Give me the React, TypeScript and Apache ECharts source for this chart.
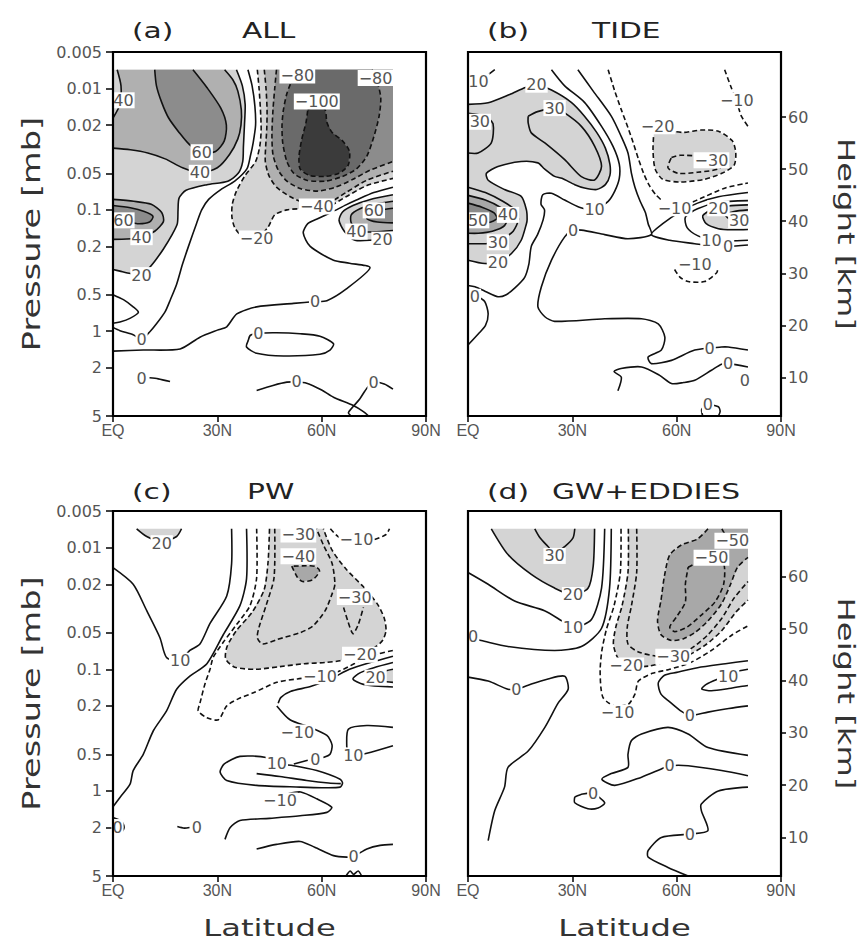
import { useEffect, useRef } from 'react';
import * as echarts from 'echarts';

type Pt = [number, number]; // [latitude (deg N), pressure (mb)]

// ---------- axes ----------
const PRESSURE_TICKS = [0.005, 0.01, 0.02, 0.05, 0.1, 0.2, 0.5, 1, 2, 5];
const PRESSURE_TICK_LABELS = ['0.005', '0.01', '0.02', '0.05', '0.1', '0.2', '0.5', '1', '2', '5'];
const HEIGHT_TICKS = [10, 20, 30, 40, 50, 60];
const HEIGHT_AT_BOTTOM = 2.6; // km at 5 mb
const HEIGHT_AT_TOP = 72.5; // km at 0.005 mb
const LAT_TICKS = [0, 30, 60, 90];
const LAT_TICK_LABELS = ['EQ', '30N', '60N', '90N'];
const TOP = 0.007; // uppermost data level (mb)
const EDGE = 80.5; // northernmost data latitude

// ---------- panel (a) ALL ----------
const A_60_TOP: Pt[] = [[12, 0.007], [12.5, 0.0095], [14, 0.013], [16, 0.0175], [19, 0.023], [22, 0.029], [25.5, 0.0335], [29.5, 0.033], [32, 0.027], [32.6, 0.02], [31, 0.0145], [27, 0.0098], [23, 0.007]];
const A_40_TOP: Pt[] = [[32.1, 0.007], [34.5, 0.0085], [35.9, 0.0105], [36.9, 0.015], [36.8, 0.02], [35.9, 0.026], [33.5, 0.035], [30, 0.045], [25, 0.0495], [20, 0.045], [15, 0.038], [10, 0.034], [5, 0.032], [0, 0.031]];
const A_40_CORNER: Pt[] = [[1.2, 0.007], [2.3, 0.0095], [2, 0.0135], [0, 0.0175]];
const A_20_TOP: Pt[] = [[35.5, 0.007], [37.2, 0.0095], [38, 0.0135], [37.8, 0.02], [37.5, 0.03], [37.3, 0.04], [36, 0.05], [33, 0.058], [27, 0.062], [21, 0.069], [19, 0.08], [18.7, 0.1], [18.5, 0.13], [17, 0.16], [14.5, 0.21], [12, 0.265], [10, 0.31], [8.2, 0.345], [5, 0.335], [2, 0.32], [0, 0.31]];
const A_0_TOP: Pt[] = [[38.8, 0.007], [40, 0.0095], [40.8, 0.014], [41, 0.02], [40.3, 0.028], [39.5, 0.036], [38.5, 0.046], [35, 0.058], [31, 0.068], [27.5, 0.082], [25.5, 0.1], [24, 0.13], [21.7, 0.2], [20, 0.28], [18.3, 0.41], [16.5, 0.55], [15, 0.69], [12.5, 0.87], [10.6, 1.01], [8.2, 1.16], [5.8, 1.07], [2, 0.99], [0, 0.93]];
const A_0_EDGE: Pt[] = [[0, 0.5], [3, 0.55], [5.8, 0.63], [7.3, 0.7], [5, 0.78], [2, 0.84], [0, 0.86]];
const A_60_LMAX: Pt[] = [[0, 0.092], [5, 0.096], [9, 0.103], [11.5, 0.113], [10.5, 0.126], [7, 0.13], [3.5, 0.124], [0, 0.122]];
const A_40_LMAX: Pt[] = [[0, 0.082], [6, 0.085], [11, 0.09], [14, 0.105], [14.5, 0.125], [12, 0.15], [8.2, 0.168], [4, 0.174], [0, 0.175]];
const A_0_LONG: Pt[] = [[0, 1.46], [8.7, 1.43], [19.3, 1.4], [25, 1.12], [30, 0.98], [32.7, 0.92], [35.6, 0.72], [41.3, 0.63], [51.9, 0.59], [58.1, 0.57], [61.5, 0.56], [67, 0.45], [73.9, 0.3], [68, 0.275], [63.4, 0.26], [56.7, 0.2], [54.7, 0.155], [56, 0.13], [59, 0.118], [63, 0.104], [67, 0.091], [70, 0.083], [75, 0.072], [80.5, 0.065]];
const A_20_R: Pt[] = [[80.5, 0.075], [74, 0.082], [69, 0.092], [66, 0.104], [65, 0.122], [66.5, 0.15], [69.6, 0.178], [75, 0.177], [80.5, 0.172]];
const A_40_R: Pt[] = [[80.5, 0.085], [75, 0.09], [71, 0.098], [68.5, 0.11], [68.5, 0.128], [70.5, 0.15], [75, 0.152], [80.5, 0.148]];
const A_60_R: Pt[] = [[80.5, 0.097], [77, 0.1], [73.5, 0.107], [73, 0.118], [76, 0.126], [80.5, 0.128]];
const A_M20: Pt[] = [[41.5, 0.007], [42, 0.01], [42.4, 0.015], [42.6, 0.022], [42.2, 0.03], [41, 0.04], [38, 0.052], [35.5, 0.07], [34.3, 0.09], [34.2, 0.115], [35, 0.14], [37, 0.163], [41.3, 0.17], [44.5, 0.14], [46.5, 0.11], [50, 0.1], [54, 0.098], [58, 0.1], [62, 0.094], [67, 0.078], [73, 0.063], [80.5, 0.055]];
const A_M40: Pt[] = [[43.5, 0.007], [44, 0.01], [44.3, 0.015], [44.2, 0.022], [43.9, 0.03], [43.8, 0.04], [44.8, 0.052], [47, 0.065], [51, 0.078], [55, 0.088], [58.6, 0.092], [62, 0.088], [67, 0.072], [73, 0.057], [80.5, 0.048]];
const A_M60: Pt[] = [[47, 0.007], [46.5, 0.01], [46, 0.015], [45.7, 0.024], [46, 0.035], [47.5, 0.047], [50, 0.058], [54, 0.067], [59, 0.07], [64, 0.065], [69, 0.056], [74, 0.047], [80.5, 0.04]];
const A_M80: Pt[] = [[53, 0.007], [51.5, 0.0085], [50, 0.011], [49, 0.015], [48.6, 0.02], [48.8, 0.028], [50, 0.04], [52, 0.05], [55.7, 0.057], [61, 0.058], [66, 0.053], [70, 0.046], [73, 0.036], [75, 0.025], [76.5, 0.017], [77, 0.012], [76, 0.0088], [74.5, 0.007]];
const A_M100: Pt[] = [[56, 0.015], [58.6, 0.0138], [61, 0.015], [61.5, 0.019], [63, 0.023], [66, 0.027], [68, 0.033], [67.6, 0.043], [65, 0.05], [61, 0.053], [56.5, 0.052], [53.8, 0.046], [53.5, 0.036], [54.3, 0.026], [55.5, 0.019], [56, 0.015]];
const A_0_LOOP: Pt[] = [[38.9, 1.19], [39.5, 1.08], [41.8, 1.04], [47, 1.03], [53.8, 1.05], [59.5, 1.1], [63.4, 1.27], [62.4, 1.43], [59.5, 1.55], [49, 1.6], [41.3, 1.52], [38.4, 1.35], [38.9, 1.19]];
const A_0_BL: Pt[] = [[10.5, 2.42], [13, 2.47], [16.4, 2.6]];
const A_0_B1: Pt[] = [[41.3, 3.08], [46, 2.8], [50, 2.63], [52.8, 2.62], [55.7, 2.68], [60, 3.05], [63.4, 3.5], [69.1, 4.1], [72, 4.6], [73.5, 5]];
const A_0_B2: Pt[] = [[80.5, 3.0], [78, 2.72], [74.9, 2.63], [73, 2.95], [71, 3.6], [69, 4.2], [67.7, 4.7], [68.5, 5]];

// ---------- panel (b) TIDE ----------
const B_10_TOP: Pt[] = [[7.7, 0.007], [5, 0.008], [2.4, 0.0088], [0, 0.0098]];
const B_20: Pt[] = [[0, 0.0135], [5.8, 0.0131], [12, 0.0112], [16.5, 0.0098], [19.7, 0.0093], [24, 0.0103], [29.7, 0.013], [33.5, 0.0169], [37, 0.023], [39.5, 0.031], [40.8, 0.042], [40.8, 0.052], [39.5, 0.062], [37, 0.068], [33.5, 0.066], [30.7, 0.062], [27, 0.055], [24.9, 0.053], [22, 0.046], [20.1, 0.041], [15.3, 0.04], [8.6, 0.044], [5.3, 0.05], [5.8, 0.057], [10.5, 0.068], [15.3, 0.0775], [16.8, 0.1], [17, 0.12], [16.8, 0.13], [15.3, 0.178], [12.5, 0.229], [8.6, 0.27], [4.8, 0.277], [0, 0.26]];
const B_30_U: Pt[] = [[17.3, 0.0169], [20, 0.0155], [24.9, 0.0145], [27.8, 0.0159], [32.6, 0.0205], [36.4, 0.0298], [38.4, 0.0438], [36.4, 0.0567], [32.6, 0.0532], [27.8, 0.0386], [22.1, 0.0281], [18.2, 0.0232], [17.3, 0.0192], [17.3, 0.0169]];
const B_30_L: Pt[] = [[0, 0.016], [5, 0.017], [7.2, 0.0195], [6.7, 0.028], [2.9, 0.034], [0, 0.034]];
const B_10: Pt[] = [[24, 0.007], [27.8, 0.0095], [33.5, 0.013], [38.4, 0.0205], [41.7, 0.03], [43.5, 0.042], [43.5, 0.055], [42.2, 0.07], [40.3, 0.085], [36.4, 0.1], [32, 0.095], [27.8, 0.083], [24, 0.073], [21.5, 0.075], [21, 0.09], [22, 0.1], [21.6, 0.121], [20, 0.16], [18.2, 0.2], [17.5, 0.28], [16.3, 0.36], [13.5, 0.44], [11, 0.5], [8.6, 0.52], [5, 0.47], [2, 0.43], [0, 0.42]];
const B_0: Pt[] = [[31.6, 0.007], [36, 0.0105], [41.2, 0.0169], [44.1, 0.025], [46, 0.034], [47, 0.05], [48, 0.065], [49.5, 0.085], [51, 0.105], [51.8, 0.13], [52.7, 0.16], [46, 0.173], [39.3, 0.16], [32.6, 0.147], [30.2, 0.148], [27.8, 0.167], [24, 0.26], [21.1, 0.43], [20.1, 0.63], [22.1, 0.76], [24.9, 0.83], [39.3, 0.79], [49.9, 0.79], [54.7, 0.87], [56.6, 1.12], [55.6, 1.43], [51.8, 1.63], [52.7, 1.85], [58.5, 1.74], [65.2, 1.43], [72.9, 1.35], [74.8, 1.35], [80.5, 1.43]];
const B_0_R: Pt[] = [[80.5, 0.072], [72, 0.078], [66, 0.088], [61, 0.104], [56, 0.13], [52.7, 0.16], [58, 0.178], [65.2, 0.19], [70, 0.198], [74.8, 0.2], [80.5, 0.195]];
const B_10_R: Pt[] = [[80.5, 0.084], [72, 0.087], [66, 0.098], [62.5, 0.115], [63, 0.14], [66, 0.163], [70, 0.176], [75, 0.18], [80.5, 0.178]];
const B_20_R: Pt[] = [[80.5, 0.091], [74.8, 0.093], [70, 0.1], [67.5, 0.112], [68.5, 0.13], [72, 0.143], [76, 0.146], [80.5, 0.145]];
const B_30_R: Pt[] = [[80.5, 0.1], [76.5, 0.103], [74, 0.11], [75.5, 0.12], [80.5, 0.124]];
const B_M10: Pt[] = [[40.3, 0.007], [42.2, 0.0105], [44.1, 0.015], [46, 0.021], [47.5, 0.028], [49, 0.038], [50.5, 0.05], [52, 0.062], [54, 0.075], [56.5, 0.087], [59.4, 0.095], [63, 0.09], [68, 0.078], [74, 0.066], [80.5, 0.06]];
const B_M10_TR: Pt[] = [[73.8, 0.007], [75.5, 0.0095], [76.7, 0.0116], [77.5, 0.0135], [78.6, 0.0169], [80.5, 0.0205]];
const B_M20: Pt[] = [[53.5, 0.0215], [56, 0.0205], [58, 0.0222], [62, 0.023], [67, 0.022], [72, 0.0225], [76, 0.027], [77, 0.034], [76.5, 0.043], [73, 0.05], [68, 0.056], [61, 0.059], [56, 0.056], [53.8, 0.046], [53.2, 0.032], [53.5, 0.0215]];
const B_M30: Pt[] = [[58.5, 0.037], [61, 0.0355], [66, 0.036], [70, 0.037], [73.5, 0.04], [72, 0.046], [66, 0.049], [60.5, 0.05], [57.5, 0.045], [58.5, 0.037]];
const B_M10_LOW: Pt[] = [[59.4, 0.31], [61, 0.36], [63.3, 0.39], [68, 0.39], [71.5, 0.33], [71.9, 0.3]];
const B_30_BL: Pt[] = [[0, 0.065], [5, 0.072], [10, 0.085], [13.5, 0.1], [14.5, 0.12], [13, 0.15], [10.5, 0.17], [8.6, 0.185], [5, 0.19], [0, 0.19]];
const B_40_BL: Pt[] = [[0, 0.076], [5, 0.083], [9.5, 0.096], [11.5, 0.11], [10.5, 0.135], [7, 0.15], [3, 0.156], [0, 0.156]];
const B_50_BL: Pt[] = [[0, 0.088], [4, 0.095], [7.5, 0.106], [8.3, 0.118], [6, 0.127], [2.9, 0.125], [0, 0.124]];
const B_0_LEFT: Pt[] = [[0, 0.47], [2, 0.5], [4.8, 0.57], [5.8, 0.72], [5, 0.9], [3, 1.05], [0, 1.3]];
const B_0_LOW: Pt[] = [[43.1, 3.1], [44.1, 2.4], [42, 2.15], [44, 2.03], [49.9, 1.97], [55, 2.3], [58.5, 2.7], [62, 2.65], [65.2, 2.54], [70, 2.1], [72.9, 1.87], [74.8, 1.85], [80.5, 1.97]];
const B_0_RE: Pt[] = [[78.8, 2.3], [79.6, 2.55], [80.5, 2.8]];
const B_0_BOT: Pt[] = [[67.5, 5], [67.2, 4.4], [69, 4.05], [72, 4.2], [72.5, 4.6], [72, 5]];

// ---------- panel (c) PW ----------
const C_20_TOP: Pt[] = [[6.8, 0.007], [9.7, 0.0081], [14, 0.009], [18.3, 0.0081], [19.7, 0.007]];
const C_10: Pt[] = [[0, 0.0146], [5.8, 0.02], [9.7, 0.033], [13.5, 0.055], [15.4, 0.08], [19.3, 0.085], [22.1, 0.07], [25, 0.062], [27.9, 0.042], [32.7, 0.025], [34.1, 0.0136], [34.1, 0.007]];
const C_0: Pt[] = [[38.4, 0.007], [38.4, 0.018], [36.5, 0.03], [31.7, 0.052], [27, 0.09], [22.1, 0.114], [18.3, 0.146], [15.4, 0.22], [11.6, 0.32], [8.7, 0.5], [5.8, 0.68], [4.9, 0.88], [2, 1.13], [0, 1.35]];
const C_M10: Pt[] = [[41.3, 0.007], [41.3, 0.0177], [39.4, 0.03], [35.5, 0.043], [31.7, 0.06], [28.8, 0.08], [27.9, 0.1], [26.5, 0.13], [25, 0.19], [24.5, 0.22], [27, 0.25], [30.3, 0.26], [32.7, 0.2], [36, 0.175], [40.4, 0.156], [47.1, 0.128], [53, 0.12], [59.5, 0.114], [65.3, 0.103], [71, 0.085], [76, 0.075], [80.5, 0.07]];
const C_M20: Pt[] = [[45, 0.007], [44.6, 0.013], [43.5, 0.022], [40, 0.034], [35.5, 0.048], [32.8, 0.065], [32.4, 0.082], [35, 0.096], [41, 0.1], [48, 0.095], [55, 0.09], [61, 0.088], [65.3, 0.085], [71, 0.076], [75, 0.067], [77.5, 0.058], [78.5, 0.048], [78, 0.038], [76, 0.029], [72, 0.021], [67, 0.015], [63, 0.0105], [60.5, 0.007]];
const C_M30: Pt[] = [[46.5, 0.007], [46.3, 0.0177], [44, 0.03], [42, 0.045], [41.5, 0.055], [43, 0.062], [47.1, 0.057], [53.8, 0.05], [57.5, 0.044], [61, 0.033], [63, 0.024], [63.8, 0.02], [63, 0.0135], [60.5, 0.0095], [58.5, 0.007]];
const C_M30_V: Pt[] = [[66.3, 0.031], [67.5, 0.04], [69, 0.051], [70.5, 0.043], [72, 0.031]];
const C_M40: Pt[] = [[51.4, 0.0142], [53, 0.0175], [54.5, 0.019], [57.5, 0.0183], [59.4, 0.0155], [58, 0.0142], [55.6, 0.0141], [51.4, 0.0142]];
const C_M10_TR: Pt[] = [[62.5, 0.007], [65, 0.0082], [70, 0.0086], [75, 0.0086], [78.5, 0.0078], [79.5, 0.007]];
const C_0_R: Pt[] = [[80.5, 0.078], [74, 0.088], [68, 0.1], [63, 0.118], [57, 0.138], [51, 0.152], [48.3, 0.17], [47.5, 0.19]];
const C_10_R: Pt[] = [[80.5, 0.088], [75, 0.097], [71, 0.107], [69, 0.12], [72, 0.133], [80.5, 0.14]];
const C_20_R: Pt[] = [[80.5, 0.1], [77, 0.106], [75.5, 0.116], [77.5, 0.125], [80.5, 0.128]];
const C_M10_L: Pt[] = [[47.1, 0.2], [50.9, 0.26], [56.7, 0.3], [61.5, 0.35], [63, 0.42], [62.4, 0.5], [60.5, 0.53]];
const C_0_SHORT: Pt[] = [[52, 0.6], [56, 0.56]];
const C_10_LOOP: Pt[] = [[47.1, 0.6], [44, 0.53], [36.5, 0.52], [32, 0.6], [30.8, 0.7], [32.7, 0.82], [41.3, 0.9], [53.8, 0.93], [60, 0.94], [65.3, 0.93], [66, 0.86], [65.3, 0.8], [58.6, 0.68], [52, 0.62], [47.1, 0.6]];
const C_0_INNER: Pt[] = [[41.3, 0.72], [48, 0.76], [55.7, 0.82], [62, 0.86], [65.5, 0.87]];
const C_M10_B: Pt[] = [[50.5, 1.05], [54, 1.02], [58.6, 1.16], [62.9, 1.36], [61.5, 1.5], [53.8, 1.6], [45, 1.68], [36.5, 1.75], [33.7, 2.0], [32.2, 2.5]];
const C_10_R2: Pt[] = [[80.5, 0.3], [73, 0.29], [67.7, 0.31], [67.2, 0.41], [67.6, 0.48], [69.1, 0.51], [73, 0.49], [80.5, 0.425]];
const C_0_LE: Pt[] = [[0, 1.65], [2.5, 1.78], [3.2, 2.0], [2, 2.25], [0, 2.2]];
const C_0_SMALL: Pt[] = [[18.5, 1.96], [20.5, 2.02], [22, 2.0]];
const C_0_BOT: Pt[] = [[41.3, 3.0], [47, 2.75], [53.8, 2.6], [58, 2.9], [63.4, 3.4], [67.3, 3.5], [69.2, 3.45], [73, 3.0], [76.8, 2.8], [80.5, 2.75]];
const C_0_BUMP: Pt[] = [[67, 5], [68.2, 4.55], [69.2, 4.85], [70.5, 4.55], [71.5, 5]];

// ---------- panel (d) GW+EDDIES ----------
const D_30: Pt[] = [[19.2, 0.007], [20.7, 0.0083], [23, 0.0098], [24.9, 0.0112], [27.8, 0.0098], [30.2, 0.0083], [30.7, 0.007]];
const D_20: Pt[] = [[6.7, 0.007], [11.5, 0.0114], [18.2, 0.0166], [24.9, 0.0215], [30.2, 0.0245], [34.5, 0.0216], [36, 0.0142], [36.4, 0.007]];
const D_10: Pt[] = [[0, 0.016], [5.8, 0.02], [13.4, 0.0275], [22, 0.033], [27, 0.04], [30.2, 0.0455], [35.5, 0.039], [38.4, 0.0215], [39.3, 0.007]];
const D_0: Pt[] = [[0, 0.055], [3.8, 0.058], [11.5, 0.065], [24.9, 0.07], [32.6, 0.065], [38.4, 0.046], [40.7, 0.0215], [41.2, 0.007]];
const D_0_B: Pt[] = [[0, 0.116], [5.8, 0.125], [11.5, 0.146], [13.9, 0.146], [17.3, 0.135], [23, 0.12], [27.8, 0.114], [28.8, 0.146], [25.9, 0.19], [22.1, 0.3], [17.3, 0.47], [11.5, 0.64], [10.5, 0.93], [7.7, 1.45], [5.8, 2.56]];
const D_M10: Pt[] = [[44, 0.007], [43.8, 0.016], [42, 0.03], [39.8, 0.047], [38.5, 0.07], [38, 0.1], [38.2, 0.14], [38.8, 0.17], [40.5, 0.19], [42.2, 0.2], [46, 0.195], [48, 0.16], [49, 0.125], [53, 0.108], [58, 0.1], [64, 0.088], [70, 0.07], [76, 0.052], [80.5, 0.044]];
const D_M20: Pt[] = [[46.1, 0.007], [46, 0.016], [44.3, 0.03], [42.5, 0.045], [41.8, 0.062], [43, 0.08], [45, 0.091], [47.5, 0.096], [52, 0.094], [55, 0.09], [62, 0.08], [68, 0.064], [73, 0.048], [77, 0.034], [80.5, 0.027]];
const D_M30: Pt[] = [[48.5, 0.007], [48.5, 0.016], [47, 0.03], [45.8, 0.045], [46, 0.062], [49, 0.072], [54, 0.078], [58.5, 0.08], [64, 0.068], [69, 0.052], [73, 0.038], [76.5, 0.026], [80.5, 0.019]];
const D_M40: Pt[] = [[69, 0.007], [66, 0.0085], [61.4, 0.0095], [58, 0.0115], [56.5, 0.017], [55.5, 0.027], [54.5, 0.04], [55.5, 0.052], [58.5, 0.058], [62, 0.056], [65.2, 0.05], [69, 0.04], [72.9, 0.029], [75.5, 0.02], [77.5, 0.0145], [80.5, 0.012]];
const D_M50_TR: Pt[] = [[73, 0.007], [74.5, 0.0082], [76.5, 0.0088], [78.5, 0.0092], [80.5, 0.0095]];
const D_M50: Pt[] = [[63.3, 0.0145], [67, 0.0128], [70, 0.0121], [73.5, 0.0135], [73.5, 0.02], [71, 0.028], [67, 0.036], [63, 0.045], [59.5, 0.049], [58, 0.045], [60, 0.037], [62.5, 0.028], [62.5, 0.02], [63.3, 0.0145]];
const D_0_R: Pt[] = [[80.5, 0.085], [74, 0.09], [66, 0.097], [60, 0.106], [56.5, 0.112], [54.7, 0.13], [55.5, 0.16], [58, 0.185], [61.4, 0.222], [63.8, 0.24], [69, 0.225], [75, 0.21], [80.5, 0.2]];
const D_10_R: Pt[] = [[80.5, 0.1], [76, 0.106], [74.8, 0.112], [72, 0.12], [68.5, 0.133], [67.2, 0.145], [70, 0.15], [75, 0.144], [78, 0.139], [80.5, 0.136]];
const D_0_TONGUE: Pt[] = [[80.5, 0.51], [69, 0.44], [63.3, 0.34], [57.5, 0.3], [49.9, 0.34], [47, 0.385], [46, 0.5], [46, 0.64], [41.2, 0.72], [38.5, 0.8], [42.2, 0.9], [49.9, 0.77], [55.6, 0.66], [58, 0.62], [63.3, 0.62], [72.9, 0.68], [80.5, 0.75]];
const D_0_LOOP: Pt[] = [[30.7, 1.12], [33, 1.06], [36, 1.05], [39.3, 1.25], [37.4, 1.38], [34.5, 1.4], [30.7, 1.25], [30.7, 1.12]];
const D_0_BR: Pt[] = [[80.5, 0.93], [72, 1.0], [67.1, 1.28], [67.1, 1.45], [69, 2.12], [63.8, 2.26], [55.6, 2.41], [51.8, 3.09], [51.8, 3.5], [57.5, 4.25], [63.3, 5]];

// ---------- structures ----------
type Contour = { level: number; pts: Pt[]; labels?: Pt[]; dash?: boolean };
type Fill = { shade: number; pts: Pt[] };
const rev = (a: Pt[]): Pt[] => a.slice().reverse();

const A_CONTOURS: Contour[] = [
  { level: 60, pts: A_60_TOP, labels: [[25.5, 0.0335]] },
  { level: 40, pts: A_40_TOP, labels: [[25, 0.0495]] },
  { level: 40, pts: A_40_CORNER, labels: [[3, 0.0125]] },
  { level: 20, pts: A_20_TOP, labels: [[8.2, 0.345]] },
  { level: 0, pts: A_0_TOP, labels: [[8.2, 1.16]] },
  { level: 0, pts: A_0_EDGE },
  { level: 60, pts: A_60_LMAX, labels: [[3, 0.122]] },
  { level: 40, pts: A_40_LMAX, labels: [[8.2, 0.168]] },
  { level: 0, pts: A_0_LONG, labels: [[58.1, 0.57]] },
  { level: 20, pts: A_20_R, labels: [[77.5, 0.176]] },
  { level: 40, pts: A_40_R, labels: [[70, 0.151]] },
  { level: 60, pts: A_60_R, labels: [[75, 0.101]] },
  { level: -20, pts: A_M20, labels: [[41.3, 0.172]] },
  { level: -40, pts: A_M40, labels: [[58.6, 0.094]] },
  { level: -60, pts: A_M60 },
  { level: -80, pts: A_M80, labels: [[53, 0.0078], [75.5, 0.0082]] },
  { level: -100, pts: A_M100, labels: [[58.6, 0.0128]] },
  { level: 0, pts: A_0_LOOP, labels: [[41.8, 1.04]] },
  { level: 0, pts: A_0_BL, labels: [[8.2, 2.45]] },
  { level: 0, pts: A_0_B1, labels: [[52.8, 2.62]] },
  { level: 0, pts: A_0_B2, labels: [[74.9, 2.63]] },
];
const A_FILLS: Fill[] = [
  { shade: 20, pts: [...A_20_TOP, [0, TOP]] },
  { shade: 40, pts: [...A_40_TOP, ...rev(A_40_CORNER)] },
  { shade: 60, pts: A_60_TOP },
  { shade: 40, pts: A_40_LMAX },
  { shade: 60, pts: A_60_LMAX },
  { shade: 20, pts: A_20_R },
  { shade: 40, pts: A_40_R },
  { shade: 60, pts: A_60_R },
  { shade: -20, pts: [...A_M20, [EDGE, TOP]] },
  { shade: -40, pts: [...A_M40, [EDGE, TOP]] },
  { shade: -60, pts: [...A_M60, [EDGE, TOP]] },
  { shade: -80, pts: A_M80 },
  { shade: -100, pts: A_M100 },
];

const B_CONTOURS: Contour[] = [
  { level: 10, pts: B_10_TOP, labels: [[3, 0.0087]] },
  { level: 20, pts: B_20, labels: [[19.7, 0.0093], [8.6, 0.27]] },
  { level: 30, pts: B_30_U, labels: [[24.9, 0.0145]] },
  { level: 30, pts: B_30_L, labels: [[3.4, 0.0188]] },
  { level: 10, pts: B_10, labels: [[36.4, 0.1]] },
  { level: 0, pts: B_0, labels: [[30.2, 0.147], [69.5, 1.38]] },
  { level: 0, pts: B_0_R, labels: [[74.8, 0.2]] },
  { level: 10, pts: B_10_R, labels: [[70, 0.178]] },
  { level: 20, pts: B_20_R, labels: [[72, 0.097]] },
  { level: 30, pts: B_30_R, labels: [[78, 0.122]] },
  { level: -10, pts: B_M10, labels: [[59.4, 0.097]] },
  { level: -10, pts: B_M10_TR, labels: [[77.3, 0.0125]] },
  { level: -20, pts: B_M20, labels: [[54.5, 0.0205]] },
  { level: -30, pts: B_M30, labels: [[70, 0.039]] },
  { level: -10, pts: B_M10_LOW, labels: [[65.2, 0.28]] },
  { level: 30, pts: B_30_BL, labels: [[8.6, 0.185]] },
  { level: 40, pts: B_40_BL, labels: [[11.5, 0.11]] },
  { level: 50, pts: B_50_BL, labels: [[2.9, 0.122]] },
  { level: 0, pts: B_0_LEFT, labels: [[2, 0.52]] },
  { level: 0, pts: B_0_LOW, labels: [[74.8, 1.85]] },
  { level: 0, pts: B_0_RE, labels: [[79.6, 2.55]] },
  { level: 0, pts: B_0_BOT, labels: [[69, 4.05]] },
];
const B_FILLS: Fill[] = [
  { shade: 20, pts: B_20 },
  { shade: 20, pts: B_20_R },
  { shade: 40, pts: B_40_BL },
  { shade: 50, pts: B_50_BL },
  { shade: -20, pts: B_M20 },
];

const C_CONTOURS: Contour[] = [
  { level: 20, pts: C_20_TOP, labels: [[14, 0.0092]] },
  { level: 10, pts: C_10, labels: [[19.3, 0.085]] },
  { level: 0, pts: C_0 },
  { level: -10, pts: C_M10, labels: [[59.5, 0.114]] },
  { level: -20, pts: C_M20, labels: [[71, 0.076]] },
  { level: -30, pts: C_M30, labels: [[53.3, 0.0078]] },
  { level: -30, pts: C_M30_V, labels: [[69.5, 0.0255]] },
  { level: -40, pts: C_M40, labels: [[53.3, 0.0118]] },
  { level: -10, pts: C_M10_TR, labels: [[70, 0.0086]] },
  { level: 0, pts: C_0_R },
  { level: 10, pts: C_10_R },
  { level: 20, pts: C_20_R, labels: [[75.5, 0.117]] },
  { level: -10, pts: C_M10_L, labels: [[53, 0.33]], dash: false },
  { level: 0, pts: C_0_SHORT, labels: [[58.2, 0.55]] },
  { level: 10, pts: C_10_LOOP, labels: [[47.1, 0.6]] },
  { level: 0, pts: C_0_INNER },
  { level: -10, pts: C_M10_B, labels: [[48, 1.2]], dash: false },
  { level: 10, pts: C_10_R2, labels: [[69.1, 0.51]] },
  { level: 0, pts: C_0_LE, labels: [[1.3, 1.98]] },
  { level: 0, pts: C_0_SMALL, labels: [[24.1, 2.0]] },
  { level: 0, pts: C_0_BOT, labels: [[69.2, 3.45]] },
  { level: 0, pts: C_0_BUMP },
];
const C_FILLS: Fill[] = [
  { shade: 20, pts: C_20_TOP },
  { shade: 20, pts: C_20_R },
  { shade: -20, pts: C_M20 },
  { shade: -40, pts: C_M40 },
];

const D_CONTOURS: Contour[] = [
  { level: 30, pts: D_30, labels: [[24.9, 0.0117]] },
  { level: 20, pts: D_20, labels: [[30.2, 0.0245]] },
  { level: 10, pts: D_10, labels: [[30.2, 0.0455]] },
  { level: 0, pts: D_0, labels: [[1.5, 0.054]] },
  { level: 0, pts: D_0_B, labels: [[13.9, 0.146]] },
  { level: -10, pts: D_M10, labels: [[43, 0.228]] },
  { level: -20, pts: D_M20, labels: [[45.5, 0.093]] },
  { level: -30, pts: D_M30, labels: [[59, 0.079]] },
  { level: -40, pts: D_M40 },
  { level: -50, pts: D_M50_TR, labels: [[76, 0.0088]] },
  { level: -50, pts: D_M50, labels: [[70, 0.0121]] },
  { level: 0, pts: D_0_R, labels: [[63.8, 0.24]] },
  { level: 10, pts: D_10_R, labels: [[74.8, 0.114]] },
  { level: 0, pts: D_0_TONGUE, labels: [[58, 0.62]] },
  { level: 0, pts: D_0_LOOP, labels: [[36, 1.05]] },
  { level: 0, pts: D_0_BR, labels: [[63.8, 2.26]] },
];
const D_FILLS: Fill[] = [
  { shade: 20, pts: D_20 },
  { shade: -20, pts: [...D_M20, [EDGE, TOP]] },
  { shade: -40, pts: [...D_M40, [EDGE, TOP]] },
];

// ---------- styles ----------
const SHADE_A: Record<number, string> = { 20: '#d4d4d4', 40: '#b0b0b0', 60: '#8c8c8c', 80: '#6a6a6a', 100: '#3b3b3b' };
const SHADE_BCD: Record<number, string> = { 20: '#d4d4d4', 40: '#a8a8a8', 50: '#8a8a8a' };
const FONT = '"DejaVu Sans", "Noto Sans", sans-serif';

type Panel = {
  tag: string; title: string; left: number; top: number; height: number;
  contours: Contour[]; fills: Fill[]; shades: Record<number, string>;
  leftAxis: boolean; rightAxis: boolean; tagX: number; nameX: number; titleY: number;
};
const W = 313;
const PANELS: Panel[] = [
  { tag: '(a)', title: 'ALL', left: 113, top: 52, height: 364, contours: A_CONTOURS, fills: A_FILLS, shades: SHADE_A, leftAxis: true, rightAxis: false, tagX: 132, nameX: 242, titleY: 30 },
  { tag: '(b)', title: 'TIDE', left: 468, top: 52, height: 364, contours: B_CONTOURS, fills: B_FILLS, shades: SHADE_BCD, leftAxis: false, rightAxis: true, tagX: 487, nameX: 592, titleY: 30 },
  { tag: '(c)', title: 'PW', left: 113, top: 511, height: 365, contours: C_CONTOURS, fills: C_FILLS, shades: SHADE_BCD, leftAxis: true, rightAxis: false, tagX: 132, nameX: 247, titleY: 491 },
  { tag: '(d)', title: 'GW+EDDIES', left: 468, top: 511, height: 365, contours: D_CONTOURS, fills: D_FILLS, shades: SHADE_BCD, leftAxis: false, rightAxis: true, tagX: 487, nameX: 552, titleY: 491 },
];

const LMIN = Math.log10(PRESSURE_TICKS[0]);
const LMAX = Math.log10(PRESSURE_TICKS[PRESSURE_TICKS.length - 1]);
const toL = (p: number) => Math.log10(p);
const levelText = (v: number) => (v < 0 ? '\u2212' + String(-v) : String(v));

function buildOption() {
  const grid: any[] = [];
  const xAxis: any[] = [];
  const yAxis: any[] = [];
  const series: any[] = [];
  const graphic: any[] = [];

  PANELS.forEach((P, i) => {
    grid.push({ left: P.left, top: P.top, width: W, height: P.height, show: false });
    xAxis.push({
      type: 'value', gridIndex: i, min: 0, max: 90, interval: 30, position: 'bottom',
      axisLine: { show: false, onZero: false }, splitLine: { show: false },
      axisTick: { show: true, length: 6, lineStyle: { color: '#000', width: 1.5 } },
      axisLabel: {
        show: true, margin: 6, color: '#555', fontSize: 16,
        fontFamily: '"Liberation Sans Narrow", "Liberation Sans", sans-serif',
        formatter: (v: number) => { const k = LAT_TICKS.indexOf(v); return k >= 0 ? LAT_TICK_LABELS[k] : ''; },
      },
    });
    const yi = yAxis.length;
    const pL = PRESSURE_TICKS.map(toL);
    yAxis.push({
      type: 'value', gridIndex: i, min: LMIN, max: LMAX, inverse: true, position: 'left',
      axisLine: { show: false, onZero: false }, splitLine: { show: false },
      axisTick: { show: P.leftAxis, length: 7, customValues: pL, lineStyle: { color: '#000', width: 1.5 } },
      axisLabel: {
        show: P.leftAxis, customValues: pL, margin: 11, color: '#555', fontSize: 16, fontFamily: FONT,
        formatter: (v: number) => {
          const k = pL.findIndex((t) => Math.abs(t - v) < 1e-6);
          return k >= 0 ? PRESSURE_TICK_LABELS[k] : '';
        },
      },
    });
    if (P.rightAxis) {
      yAxis.push({
        type: 'value', gridIndex: i, min: HEIGHT_AT_BOTTOM, max: HEIGHT_AT_TOP, position: 'right',
        axisLine: { show: false, onZero: false }, splitLine: { show: false },
        axisTick: { show: true, length: 5, customValues: HEIGHT_TICKS, lineStyle: { color: '#000', width: 1.5 } },
        axisLabel: { show: true, customValues: HEIGHT_TICKS, margin: 7, color: '#555', fontSize: 16, fontFamily: FONT },
      });
    }

    const fills = P.fills.slice().sort((a, b) => Math.abs(a.shade) - Math.abs(b.shade));
    series.push({
      type: 'custom', xAxisIndex: i, yAxisIndex: yi, z: 1, silent: true, clip: false,
      encode: { x: 0, y: 1 },
      data: fills.map((f, k) => [f.pts[0][0], toL(f.pts[0][1]), k]),
      renderItem: (_p: any, api: any) => {
        const f = fills[api.value(2)];
        return {
          type: 'polygon',
          shape: { points: f.pts.map(([la, p]) => api.coord([la, toL(p)])) },
          style: { fill: P.shades[Math.abs(f.shade)], stroke: 'none' },
        };
      },
    });
    series.push({
      type: 'custom', xAxisIndex: i, yAxisIndex: yi, z: 2, silent: true, clip: false,
      encode: { x: 0, y: 1 },
      data: P.contours.map((c, k) => [c.pts[0][0], toL(c.pts[0][1]), k]),
      renderItem: (_p: any, api: any) => {
        const c = P.contours[api.value(2)];
        const dashed = c.dash === undefined ? c.level < 0 : c.dash;
        return {
          type: 'polyline',
          shape: { points: c.pts.map(([la, p]) => api.coord([la, toL(p)])), smooth: 0.25 },
          style: { stroke: '#111', lineWidth: 1.6, fill: 'none', lineDash: dashed ? [5, 3] : null },
        };
      },
    });
    const labelItems: any[] = [];
    P.contours.forEach((c) => (c.labels || []).forEach((l) => labelItems.push([l[0], toL(l[1]), c.level])));
    series.push({
      type: 'custom', xAxisIndex: i, yAxisIndex: yi, z: 3, silent: true, clip: false,
      encode: { x: 0, y: 1 },
      data: labelItems,
      renderItem: (_p: any, api: any) => {
        const pt = api.coord([api.value(0), api.value(1)]);
        return {
          type: 'text', x: pt[0], y: pt[1],
          style: {
            text: levelText(api.value(2)), fill: '#555', font: `16px ${FONT}`,
            align: 'center', verticalAlign: 'middle', backgroundColor: '#fff', padding: [0, 1],
          },
        };
      },
    });
    // frame
    series.push({
      type: 'custom', xAxisIndex: i, yAxisIndex: yi, z: 5, silent: true, clip: false,
      encode: { x: 0, y: 1 },
      data: [[0, LMIN]],
      renderItem: (_p: any, api: any) => {
        const a = api.coord([0, LMIN]);
        const b = api.coord([90, LMAX]);
        return {
          type: 'rect',
          shape: { x: Math.min(a[0], b[0]), y: Math.min(a[1], b[1]), width: Math.abs(b[0] - a[0]), height: Math.abs(b[1] - a[1]) },
          style: { fill: 'none', stroke: '#000', lineWidth: 2.2 },
        };
      },
    });

    graphic.push({ type: 'text', x: P.tagX, y: P.titleY, scaleX: 1.35, z: 10, style: { text: P.tag, font: `22px ${FONT}`, fill: '#222', align: 'left', verticalAlign: 'middle', textAlign: 'left', textVerticalAlign: 'middle' } });
    graphic.push({ type: 'text', x: P.nameX, y: P.titleY, scaleX: 1.35, z: 10, style: { text: P.title, font: `22px ${FONT}`, fill: '#222', align: 'left', verticalAlign: 'middle', textAlign: 'left', textVerticalAlign: 'middle' } });
    const cy = P.top + P.height / 2;
    if (P.leftAxis) {
      graphic.push({ type: 'text', x: 32, y: cy, rotation: Math.PI / 2, scaleX: 1.4, z: 10, style: { text: 'Pressure [mb]', font: `24px ${FONT}`, fill: '#333', align: 'center', verticalAlign: 'middle', textAlign: 'center', textVerticalAlign: 'middle' } });
    }
    if (P.rightAxis) {
      graphic.push({ type: 'text', x: 846, y: cy, rotation: -Math.PI / 2, scaleX: 1.4, z: 10, style: { text: 'Height [km]', font: `23px ${FONT}`, fill: '#333', align: 'center', verticalAlign: 'middle', textAlign: 'center', textVerticalAlign: 'middle' } });
    }
    if (i >= 2) {
      graphic.push({ type: 'text', x: P.left + W / 2, y: 928, scaleX: 1.4, z: 10, style: { text: 'Latitude', font: `23px ${FONT}`, fill: '#333', align: 'center', verticalAlign: 'middle', textAlign: 'center', textVerticalAlign: 'middle' } });
    }
  });

  return { animation: false, backgroundColor: '#fff', grid, xAxis, yAxis, series, graphic };
}

export default function App() {
  const ref = useRef<HTMLDivElement>(null);
  useEffect(() => {
    if (!ref.current) return;
    const chart = echarts.init(ref.current, undefined, { renderer: 'svg' });
    chart.setOption(buildOption() as any);
    return () => chart.dispose();
  }, []);
  return <div ref={ref} style={{ position: 'absolute', left: 0, top: 0, width: 863, height: 948, background: '#fff' }} />;
}
